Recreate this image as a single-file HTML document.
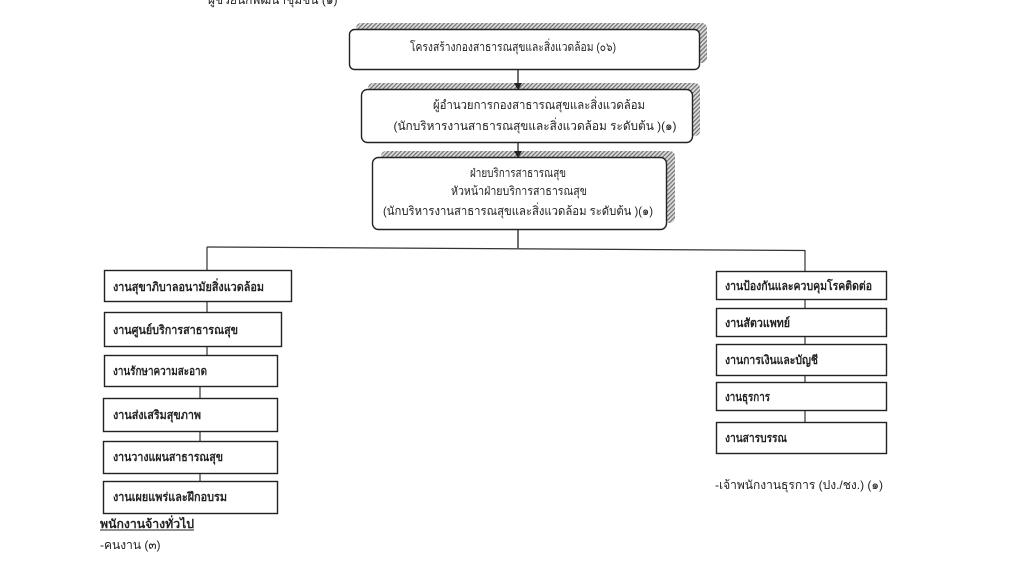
<!DOCTYPE html>
<html><head><meta charset="utf-8">
<style>
html,body{margin:0;padding:0;background:#fff;}
body{width:1014px;height:568px;overflow:hidden;position:relative;}
svg{position:absolute;left:0;top:0;}
text{font-family:"Liberation Sans","DejaVu Sans",sans-serif;fill:#222;}
.b{font-weight:bold;font-size:12px;}
.n{font-size:12px;}
</style></head><body>
<svg width="1014" height="568" viewBox="0 0 1014 568" xmlns="http://www.w3.org/2000/svg" xml:space="preserve">
<defs>
<pattern id="h" width="3" height="3" patternUnits="userSpaceOnUse" patternTransform="rotate(45)">
<rect width="3" height="3" fill="#dcdcdc"/>
<rect width="1.2" height="3" fill="#707070"/>
</pattern>
</defs>

<!-- cut-off top text -->
<text x="208" y="4" class="n" fill="#333">ผู้ช่วยนักพัฒนาชุมชน (๑)</text>

<!-- shadows -->
<rect x="356" y="23" width="351" height="40" rx="5" fill="url(#h)"/>
<rect x="368" y="83" width="332" height="53" rx="5" fill="url(#h)"/>
<rect x="381" y="151" width="294" height="72" rx="5" fill="url(#h)"/>

<!-- top boxes -->
<rect x="349.5" y="29.5" width="350" height="40" rx="5" fill="#fff" stroke="#222" stroke-width="1.4"/>
<text x="513" y="51" class="n" text-anchor="middle" textLength="206" lengthAdjust="spacingAndGlyphs">โครงสร้างกองสาธารณสุขและสิ่งแวดล้อม  (๐๖)</text>

<rect x="361.5" y="89.5" width="331" height="53" rx="6" fill="#fff" stroke="#222" stroke-width="1.4"/>
<text x="539" y="109" class="n" text-anchor="middle" textLength="212" lengthAdjust="spacingAndGlyphs">ผู้อำนวยการกองสาธารณสุขและสิ่งแวดล้อม</text>
<text x="535" y="130" class="n" text-anchor="middle" textLength="283" lengthAdjust="spacingAndGlyphs">(นักบริหารงานสาธารณสุขและสิ่งแวดล้อม  ระดับต้น )(๑)</text>

<rect x="372.5" y="157.5" width="294" height="72" rx="6" fill="#fff" stroke="#222" stroke-width="1.4"/>
<text x="518" y="177" class="n" text-anchor="middle" textLength="96" lengthAdjust="spacingAndGlyphs">ฝ่ายบริการสาธารณสุข</text>
<text x="519" y="195" class="n" text-anchor="middle" textLength="136" lengthAdjust="spacingAndGlyphs">หัวหน้าฝ่ายบริการสาธารณสุข</text>
<text x="518" y="215" class="n" text-anchor="middle" textLength="270" lengthAdjust="spacingAndGlyphs">(นักบริหารงานสาธารณสุขและสิ่งแวดล้อม  ระดับต้น )(๑)</text>

<!-- arrows -->
<line x1="518" y1="70" x2="518" y2="84" stroke="#222" stroke-width="1.3"/>
<polygon points="514,83 522,83 518,90" fill="#222"/>
<line x1="518" y1="143" x2="518" y2="152" stroke="#222" stroke-width="1.3"/>
<polygon points="514,151 522,151 518,158" fill="#222"/>
<line x1="518" y1="230" x2="518" y2="248" stroke="#222" stroke-width="1.3"/>

<!-- horizontal bus -->
<line x1="207" y1="247" x2="805" y2="250.5" stroke="#333" stroke-width="1.3"/>
<!-- left vertical -->
<line x1="207" y1="247" x2="207" y2="356" stroke="#333" stroke-width="1.2"/>
<line x1="200" y1="386" x2="200" y2="482" stroke="#333" stroke-width="1.2"/>
<!-- right vertical -->
<line x1="805" y1="250" x2="805" y2="423" stroke="#333" stroke-width="1.2"/>

<!-- left boxes -->
<g fill="#fff" stroke="#222" stroke-width="1.4">
<rect x="104.5" y="270.5" width="187" height="31"/>
<rect x="104.5" y="312.5" width="177" height="34"/>
<rect x="104.5" y="355.5" width="173" height="31"/>
<rect x="103.5" y="398.5" width="174" height="33"/>
<rect x="103.5" y="441.5" width="174" height="32"/>
<rect x="103.5" y="481.5" width="174" height="32"/>
</g>
<text x="113" y="291" class="b" textLength="151" lengthAdjust="spacingAndGlyphs">งานสุขาภิบาลอนามัยสิ่งแวดล้อม</text>
<text x="113" y="334" class="b" textLength="125" lengthAdjust="spacingAndGlyphs">งานศูนย์บริการสาธารณสุข</text>
<text x="113" y="375" class="b" textLength="94" lengthAdjust="spacingAndGlyphs">งานรักษาความสะอาด</text>
<text x="113" y="419" class="b" textLength="88" lengthAdjust="spacingAndGlyphs">งานส่งเสริมสุขภาพ</text>
<text x="113" y="461" class="b" textLength="110" lengthAdjust="spacingAndGlyphs">งานวางแผนสาธารณสุข</text>
<text x="113" y="501" class="b" textLength="114" lengthAdjust="spacingAndGlyphs">งานเผยแพร่และฝึกอบรม</text>

<text x="100" y="528" class="b" textLength="94" lengthAdjust="spacingAndGlyphs">พนักงานจ้างทั่วไป</text>
<line x1="100" y1="530" x2="194" y2="530" stroke="#222" stroke-width="1"/>
<text x="100" y="549" class="n" font-size="11">-คนงาน  (๓)</text>

<!-- right boxes -->
<g fill="#fff" stroke="#222" stroke-width="1.4">
<rect x="716.5" y="271.5" width="170" height="28"/>
<rect x="716.5" y="308.5" width="170" height="28"/>
<rect x="716.5" y="344.5" width="170" height="31"/>
<rect x="716.5" y="382.5" width="170" height="28"/>
<rect x="716.5" y="422.5" width="170" height="31"/>
</g>
<text x="725" y="290" class="b" textLength="147" lengthAdjust="spacingAndGlyphs">งานป้องกันและควบคุมโรคติดต่อ</text>
<text x="725" y="327" class="b" textLength="65" lengthAdjust="spacingAndGlyphs">งานสัตวแพทย์</text>
<text x="725" y="364" class="b" textLength="93" lengthAdjust="spacingAndGlyphs">งานการเงินและบัญชี</text>
<text x="725" y="401" class="b" textLength="45" lengthAdjust="spacingAndGlyphs">งานธุรการ</text>
<text x="725" y="442" class="b" textLength="62" lengthAdjust="spacingAndGlyphs">งานสารบรรณ</text>

<text x="715" y="489" class="n">-เจ้าพนักงานธุรการ (ปง./ชง.) (๑)</text>
</svg>
</body></html>
